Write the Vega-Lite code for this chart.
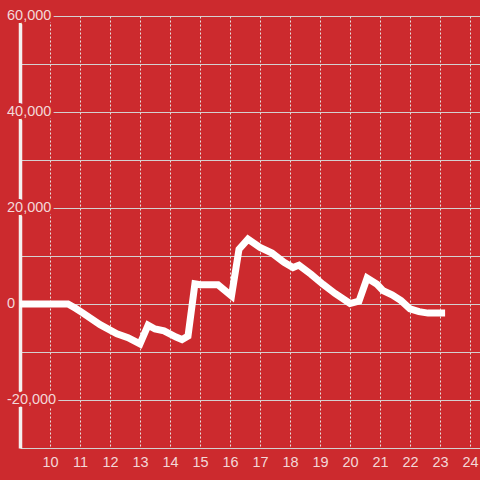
{
  "$schema": "https://vega.github.io/schema/vega-lite/v6.json",
  "width": 460,
  "height": 432,
  "autosize": "none",
  "padding": {"left": 20, "top": 16, "right": 0, "bottom": 32},
  "background": "#cc2a2e",
  "config": {
    "view": {"stroke": null},
    "font": "Liberation Sans"
  },
  "datasets": {
    "series": [
      {"t": 9.0, "v": 0},
      {"t": 10.6, "v": 0},
      {"t": 10.85, "v": -900},
      {"t": 11.1, "v": -1900},
      {"t": 11.67, "v": -4300},
      {"t": 12.23, "v": -6200},
      {"t": 12.6, "v": -7000},
      {"t": 13.0, "v": -8300},
      {"t": 13.27, "v": -4400},
      {"t": 13.5, "v": -5200},
      {"t": 13.8, "v": -5600},
      {"t": 14.2, "v": -6900},
      {"t": 14.4, "v": -7400},
      {"t": 14.6, "v": -6700},
      {"t": 14.83, "v": 4200},
      {"t": 15.0, "v": 4000},
      {"t": 15.6, "v": 4000},
      {"t": 16.05, "v": 1700},
      {"t": 16.3, "v": 11400},
      {"t": 16.6, "v": 13500},
      {"t": 17.0, "v": 11800},
      {"t": 17.4, "v": 10600},
      {"t": 17.8, "v": 8700},
      {"t": 18.1, "v": 7600},
      {"t": 18.3, "v": 8100},
      {"t": 18.7, "v": 6200},
      {"t": 19.1, "v": 4100},
      {"t": 19.5, "v": 2200},
      {"t": 20.0, "v": 100},
      {"t": 20.3, "v": 600},
      {"t": 20.57, "v": 5400},
      {"t": 20.9, "v": 4100},
      {"t": 21.1, "v": 2800},
      {"t": 21.4, "v": 1900},
      {"t": 21.7, "v": 700},
      {"t": 22.0, "v": -1000},
      {"t": 22.3, "v": -1600},
      {"t": 22.6, "v": -1900},
      {"t": 23.17, "v": -1900}
    ],
    "ylabels": [
      {"v": 60000, "label": "60,000"},
      {"v": 40000, "label": "40,000"},
      {"v": 20000, "label": "20,000"},
      {"v": 0, "label": "0"},
      {"v": -20000, "label": "-20,000"}
    ]
  },
  "encoding": {
    "x": {
      "type": "quantitative",
      "scale": {"domain": [9, 24.333], "nice": false, "zero": false},
      "axis": {
        "title": null,
        "values": [10, 11, 12, 13, 14, 15, 16, 17, 18, 19, 20, 21, 22, 23, 24],
        "format": "d",
        "domain": false,
        "ticks": false,
        "labelPadding": 7,
        "labelFontSize": 14.5,
        "labelColor": "#f3d8d8",
        "labelFont": "Liberation Sans",
        "grid": true,
        "gridColor": "#e6e0e0",
        "gridDash": [2, 2],
        "gridWidth": 1
      }
    },
    "y": {
      "type": "quantitative",
      "scale": {"domain": [-30000, 60000], "nice": false, "zero": false},
      "axis": {
        "title": null,
        "values": [-30000, -20000, -10000, 0, 10000, 20000, 30000, 40000, 50000, 60000],
        "labels": false,
        "ticks": false,
        "domain": true,
        "domainColor": "#f4f0f0",
        "domainWidth": 3.5,
        "grid": true,
        "gridColor": "#d4d0d0",
        "gridWidth": 1
      }
    }
  },
  "layer": [
    {
      "mark": {"type": "rule", "color": "#f6f2f2", "strokeWidth": 3},
      "encoding": {"y": {"datum": 0}}
    },
    {
      "data": {"name": "ylabels"},
      "mark": {
        "type": "text",
        "align": "left",
        "baseline": "middle",
        "dx": -13,
        "fontSize": 14.5,
        "font": "Liberation Sans",
        "fill": "#cc2a2e",
        "stroke": "#cc2a2e",
        "strokeWidth": 6,
        "strokeJoin": "round"
      },
      "encoding": {
        "x": {"datum": 9},
        "y": {"field": "v"},
        "text": {"field": "label"}
      }
    },
    {
      "data": {"name": "ylabels"},
      "mark": {
        "type": "text",
        "align": "left",
        "baseline": "middle",
        "dx": -13,
        "fontSize": 14.5,
        "font": "Liberation Sans",
        "fill": "#f3d8d8"
      },
      "encoding": {
        "x": {"datum": 9},
        "y": {"field": "v"},
        "text": {"field": "label"}
      }
    },
    {
      "data": {"name": "series"},
      "mark": {"type": "line", "color": "#ffffff", "strokeWidth": 7, "clip": true},
      "encoding": {
        "x": {"field": "t"},
        "y": {"field": "v"}
      }
    }
  ]
}
